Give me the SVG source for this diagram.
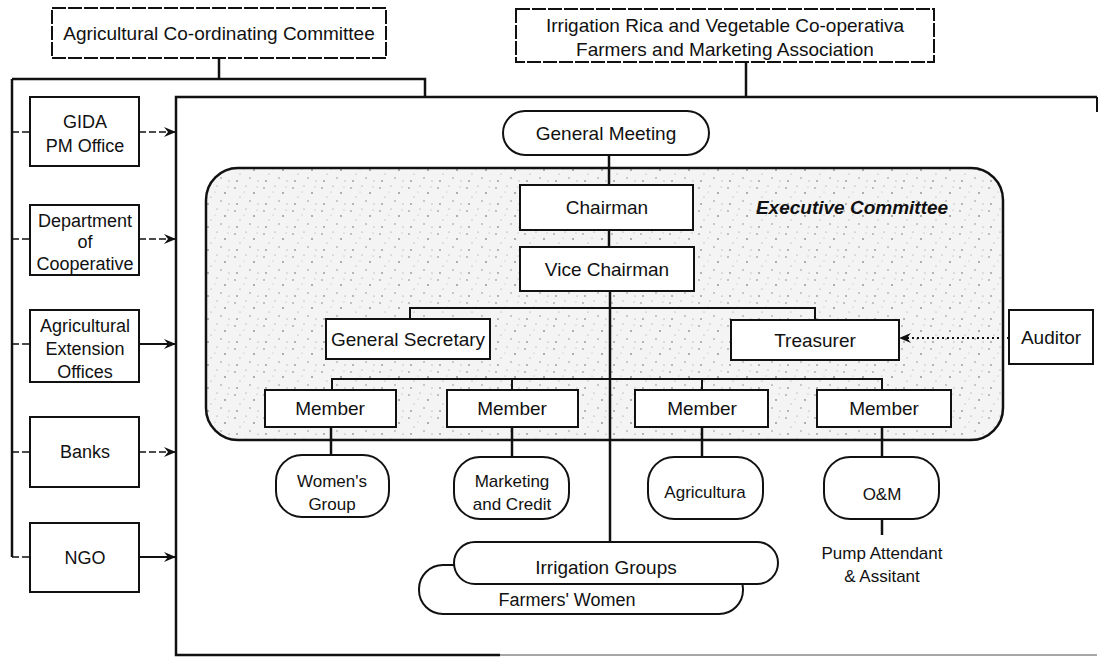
<svg xmlns="http://www.w3.org/2000/svg" width="1099" height="658" viewBox="0 0 1099 658">
<style>
text{font-family:"Liberation Sans",Arial,sans-serif;fill:#111;text-anchor:middle}
.lbl{font-size:19px}
.sm{font-size:18px}
.xs{font-size:17px}
.box{fill:#fff;stroke:#111;stroke-width:2}
.ln{fill:none;stroke:#111;stroke-width:2}
.thk{fill:none;stroke:#111;stroke-width:2.5}
.dsh{fill:none;stroke:#111;stroke-width:1.6;stroke-dasharray:7 3}
.dot{fill:none;stroke:#111;stroke-width:2;stroke-dasharray:2 3}
.ec{font-size:19px;font-weight:bold;font-style:italic}
</style>
<defs>
<pattern id="speckle" width="29" height="23" patternUnits="userSpaceOnUse">
<rect width="29" height="23" fill="#f4f4f4"/>
<circle cx="3" cy="4" r="0.7" fill="#666"/>
<circle cx="14" cy="2" r="0.6" fill="#888"/>
<circle cx="22" cy="9" r="0.8" fill="#555"/>
<circle cx="8" cy="13" r="0.6" fill="#999"/>
<circle cx="18" cy="17" r="0.7" fill="#777"/>
<circle cx="26" cy="20" r="0.6" fill="#888"/>
<circle cx="5" cy="20" r="0.8" fill="#666"/>
<circle cx="12" cy="8" r="0.5" fill="#aaa"/>
<circle cx="25" cy="3" r="0.5" fill="#999"/>
</pattern>
<marker id="arr" markerWidth="12" markerHeight="10" refX="11" refY="5" orient="auto" markerUnits="userSpaceOnUse">
<path d="M0,0 L12,5 L0,10 L4,5 Z" fill="#111"/>
</marker>
</defs>

<!-- outer frame -->
<g id="frame">
<path class="thk" d="M1097,97 H176 V655 H500"/>
<path fill="none" stroke="#888" stroke-width="1.5" d="M500,655 H1097"/>
<path class="ln" d="M1097,97 V112"/>
</g>

<!-- executive committee background -->
<g id="executive-committee">
<rect x="206" y="168" width="797" height="272" rx="32" fill="url(#speckle)" stroke="#111" stroke-width="2.5"/>
<text class="ec" x="852" y="214">Executive Committee</text>
</g>

<g id="connectors">
<path class="thk" d="M219,58 V79"/>
<path class="thk" d="M12,79 H425 V97"/>
<path class="thk" d="M746,62 V97"/>
<path class="thk" d="M12,79 V557"/>
<path class="dsh" d="M12,132 H30"/>
<path class="dsh" d="M12,239 H30"/>
<path class="dsh" d="M12,344 H30"/>
<path class="dsh" d="M12,452 H30"/>
<path class="dsh" d="M12,557 H30"/>
<path class="dsh" d="M139,132 H175" marker-end="url(#arr)"/>
<path class="dsh" d="M139,239 H175" marker-end="url(#arr)"/>
<path class="ln" d="M139,344 H175" marker-end="url(#arr)"/>
<path class="dsh" d="M139,452 H175" marker-end="url(#arr)"/>
<path class="ln" d="M139,557 H175" marker-end="url(#arr)"/>
<path class="thk" d="M609,155 V185"/>
<path class="thk" d="M609,230 V247"/>
<path class="thk" d="M610,291 V542"/>
<path class="ln" d="M410,320 V308 H815 V320"/>
<path class="ln" d="M332,390 V379 H882 V390"/>
<path class="ln" d="M512,379 V390"/>
<path class="ln" d="M702,379 V390"/>
<path class="thk" d="M331,427 V455"/>
<path class="thk" d="M512,427 V457"/>
<path class="thk" d="M702,427 V457"/>
<path class="thk" d="M882,427 V457"/>
<path class="thk" d="M882,519 V535"/>
<path class="dot" d="M1009,338 H900" marker-end="url(#arr)"/>
</g>

<g id="acc">
<rect class="box" x="52" y="8" width="334" height="50" stroke-dasharray="14 2"/>
<text class="lbl" x="219" y="40">Agricultural Co-ordinating Committee</text>
</g>

<g id="irca">
<rect class="box" x="516" y="9" width="418" height="53" stroke-dasharray="14 2"/>
<text class="lbl" x="725" y="32">Irrigation Rica and Vegetable Co-operativa</text>
<text class="lbl" x="725" y="56">Farmers and Marketing Association</text>
</g>

<g id="gida">
<rect class="box" x="30" y="97" width="109" height="69"/>
<text class="sm" x="85" y="128">GIDA</text>
<text class="sm" x="85" y="152">PM Office</text>
</g>
<g id="doc">
<rect class="box" x="30" y="205" width="109" height="70"/>
<text class="sm" x="85" y="227">Department</text>
<text class="sm" x="85" y="248">of</text>
<text class="sm" x="85" y="270">Cooperative</text>
</g>
<g id="aeo">
<rect class="box" x="30" y="310" width="109" height="72"/>
<text class="sm" x="85" y="332">Agricultural</text>
<text class="sm" x="85" y="355">Extension</text>
<text class="sm" x="85" y="378">Offices</text>
</g>
<g id="banks">
<rect class="box" x="30" y="417" width="109" height="70"/>
<text class="sm" x="85" y="458">Banks</text>
</g>
<g id="ngo">
<rect class="box" x="30" y="523" width="109" height="69"/>
<text class="sm" x="85" y="564">NGO</text>
</g>

<g id="general-meeting">
<rect class="box" x="503" y="111" width="206" height="44" rx="22"/>
<text class="lbl" x="606" y="140">General Meeting</text>
</g>

<g id="chairman">
<rect class="box" x="520" y="185" width="173" height="45"/>
<text class="lbl" x="607" y="214">Chairman</text>
</g>
<g id="vice-chairman">
<rect class="box" x="520" y="247" width="174" height="44"/>
<text class="lbl" x="607" y="276">Vice Chairman</text>
</g>
<g id="general-secretary">
<rect class="box" x="326" y="319" width="164" height="40"/>
<text class="lbl" x="408" y="346">General Secretary</text>
</g>
<g id="treasurer">
<rect class="box" x="731" y="320" width="168" height="40"/>
<text class="lbl" x="815" y="347">Treasurer</text>
</g>
<g id="auditor">
<rect class="box" x="1009" y="310" width="84" height="54"/>
<text class="lbl" x="1051" y="344">Auditor</text>
</g>

<g id="member1">
<rect class="box" x="265" y="390" width="131" height="37"/>
<text class="lbl" x="330" y="415">Member</text>
</g>
<g id="member2">
<rect class="box" x="447" y="390" width="131" height="37"/>
<text class="lbl" x="512" y="415">Member</text>
</g>
<g id="member3">
<rect class="box" x="635" y="390" width="133" height="37"/>
<text class="lbl" x="702" y="415">Member</text>
</g>
<g id="member4">
<rect class="box" x="817" y="390" width="134" height="37"/>
<text class="lbl" x="884" y="415">Member</text>
</g>

<g id="womens-group">
<rect class="box" x="276" y="455" width="113" height="62" rx="26"/>
<text class="xs" x="332" y="487">Women's</text>
<text class="xs" x="332" y="510">Group</text>
</g>
<g id="marketing-credit">
<rect class="box" x="454" y="457" width="115" height="62" rx="26"/>
<text class="xs" x="512" y="487">Marketing</text>
<text class="xs" x="512" y="510">and Credit</text>
</g>
<g id="agricultura">
<rect class="box" x="648" y="457" width="115" height="62" rx="26"/>
<text class="xs" x="705" y="498">Agricultura</text>
</g>
<g id="om">
<rect class="box" x="824" y="457" width="115" height="62" rx="26"/>
<text class="xs" x="882" y="500">O&amp;M</text>
</g>
<g id="pump">
<text class="xs" x="882" y="559">Pump Attendant</text>
<text class="xs" x="882" y="582">&amp; Assitant</text>
</g>

<g id="farmers-women">
<rect class="box" x="419" y="565" width="324" height="49" rx="24"/>
<text class="sm" x="567" y="606">Farmers' Women</text>
</g>
<g id="irrigation-groups">
<rect class="box" x="454" y="542" width="324" height="42" rx="21"/>
<text class="lbl" x="606" y="574">Irrigation Groups</text>
</g>
</svg>
